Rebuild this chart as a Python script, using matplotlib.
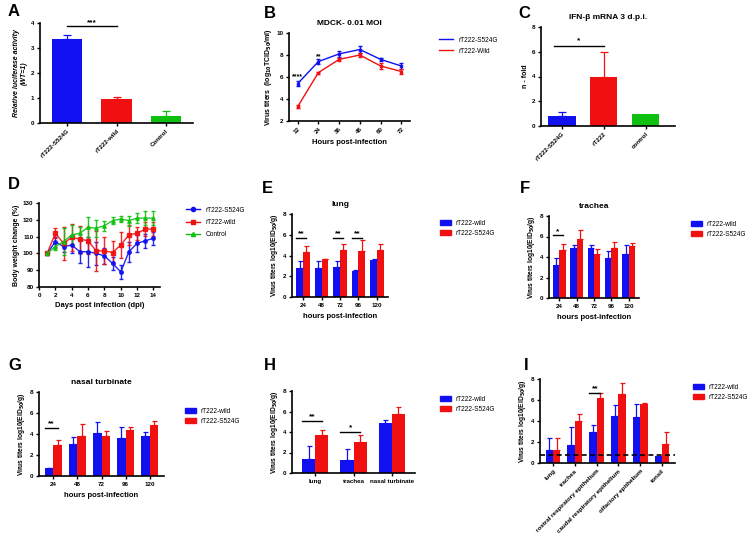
import numpy as np
import matplotlib
matplotlib.use('Agg')
import matplotlib.pyplot as plt
from matplotlib.patches import Patch

BLUE = '#1010f0'
RED = '#f01010'
GREEN = '#10c010'

# A: luciferase
a_labels = ['rT222-S524G', 'rT222-wild', 'Control']
a_vals = [3.35, 0.97, 0.3]
a_err = [0.18, 0.08, 0.2]

# B: MDCK growth curve
b_hours = [12, 24, 36, 48, 60, 72]
b_s524g = [5.4, 7.4, 8.1, 8.5, 7.6, 7.0]
b_s524g_err = [0.2, 0.2, 0.25, 0.3, 0.15, 0.3]
b_wild = [3.3, 6.4, 7.6, 8.0, 7.0, 6.5]
b_wild_err = [0.15, 0.1, 0.15, 0.2, 0.25, 0.2]

# C: IFN-beta
c_labels = ['rT222-S524G', 'rT222', 'control']
c_vals = [0.8, 4.0, 1.0]
c_err = [0.3, 2.0, 0.0]

# D: body weight
d_days = list(range(1, 15))
d_s524g = [100, 107, 104, 105, 101, 101, 100, 98.5, 94, 89, 101, 106, 107.5, 109]
d_s524g_err = [1, 3, 3, 5, 7, 9, 7, 5, 4, 4, 6, 5, 4, 4]
d_wild = [100, 112, 106, 109.5, 108.5, 107.5, 101.5, 101.5, 100.5, 105, 111, 112, 114.5, 114.5]
d_wild_err = [1, 3, 10, 8, 8, 8, 12, 8, 7, 8, 6, 4, 4, 4]
d_ctrl = [100, 104, 107, 111, 112, 115.5, 115, 116.5, 119.5, 120.5, 119.5, 121, 121, 121]
d_ctrl_err = [1, 2, 8, 6, 4, 6, 5, 3, 2, 2, 3, 3, 4, 4]

hours = ['24', '48', '72', '96', '120']

# E: lung
e_wild = [2.8, 2.8, 2.9, 2.5, 3.55]
e_wild_err = [0.7, 0.7, 0.6, 0.1, 0.15]
e_mut = [4.35, 3.7, 4.5, 4.45, 4.5]
e_mut_err = [0.6, 0.0, 0.6, 1.0, 0.6]

# F: trachea
f_wild = [3.2, 4.9, 4.9, 3.9, 4.25]
f_wild_err = [0.7, 0.3, 0.3, 0.7, 0.9]
f_mut = [4.7, 5.75, 4.25, 4.9, 5.05]
f_mut_err = [0.55, 0.9, 0.5, 0.6, 0.35]

# G: nasal turbinate
g_wild = [0.75, 3.05, 4.1, 3.65, 3.85]
g_wild_err = [0.0, 0.65, 1.05, 1.0, 0.35]
g_mut = [2.95, 3.85, 3.85, 4.4, 4.9]
g_mut_err = [0.5, 1.15, 0.4, 0.25, 0.3]

# H: tissues
h_labels = ['lung', 'trachea', 'nasal turbinate']
h_wild = [1.4, 1.3, 4.85]
h_wild_err = [1.2, 1.0, 0.3]
h_mut = [3.75, 3.05, 5.75]
h_mut_err = [0.45, 0.65, 0.7]

# I: tissues
i_labels = ['lung', 'trachea', 'rostral respiratory epithelium',
            'caudal respiratory epithelium', 'olfactory epithelium', 'tonsil']
i_wild = [1.25, 1.7, 2.95, 4.5, 4.35, 0.7]
i_wild_err = [1.1, 1.75, 0.7, 1.0, 1.25, 0.0]
i_mut = [1.25, 4.0, 6.2, 6.6, 5.6, 1.85]
i_mut_err = [1.1, 0.65, 0.45, 1.0, 0.15, 1.1]

plt.rcParams['font.family'] = 'Liberation Sans'
plt.rcParams['font.weight'] = 'bold'
plt.rcParams['axes.labelweight'] = 'bold'
plt.rcParams['axes.titleweight'] = 'bold'
plt.rcParams['axes.linewidth'] = 1.2

fig = plt.figure(figsize=(7.5, 5.37), dpi=100)

LEG_FONT = {'size': 4.7, 'weight': 'normal'}


def axes_px(x0, y0, x1, y1):
    return fig.add_axes([x0 / 750, 1 - y1 / 537, (x1 - x0) / 750, (y1 - y0) / 537])


def style(ax):
    ax.spines['top'].set_visible(False)
    ax.spines['right'].set_visible(False)
    ax.tick_params(labelsize=4.5, width=1.0, length=2.5, pad=1.5)


def letter(x, y, s):
    fig.text(x / 750, 1 - y / 537, s, fontsize=12, fontweight='bold', va='center', ha='left')


def sig(ax, x0, x1, y, stars, dy=0.25):
    ax.plot([x0, x1], [y, y], color='black', lw=1.0)
    ax.text((x0 + x1) / 2, y + dy, stars, ha='center', va='center', fontsize=6)


def grouped(ax, labels, wild, wild_err, mut, mut_err, w=0.36):
    x = np.arange(len(labels))
    ax.bar(x - w / 2, wild, w, color=BLUE, yerr=[np.zeros(len(wild)), wild_err],
           error_kw=dict(ecolor=BLUE, elinewidth=0.9, capsize=1.8, capthick=0.9))
    ax.bar(x + w / 2, mut, w, color=RED, yerr=[np.zeros(len(mut)), mut_err],
           error_kw=dict(ecolor=RED, elinewidth=0.9, capsize=1.8, capthick=0.9))
    ax.set_xticks(x)
    ax.set_xticklabels(labels)
    ax.set_xlim(-0.6, len(labels) - 0.4)
    ax.set_ylim(0, 8)
    ax.set_yticks([0, 2, 4, 6, 8])
    ax.tick_params(axis='x', length=0)
    style(ax)
    return x, w


def bar_legend(ax, x, y):
    handles = [Patch(color=BLUE, label='rT222-wild'), Patch(color=RED, label='rT222-S524G')]
    ax.legend(handles=handles, loc='upper left', bbox_to_anchor=(x / 750, 1 - y / 537),
              bbox_transform=fig.transFigure, frameon=False, prop=LEG_FONT,
              handlelength=1.8, handleheight=0.9, handletextpad=0.6,
              labelspacing=0.5, borderaxespad=0)


titer_label = 'Virus titers log10(EID$_{50}$/g)'

# ---- A
ax = axes_px(40, 23, 193, 123)
xa = np.arange(3)
ax.bar(xa, a_vals, 0.62, color=[BLUE, RED, GREEN])
for xi, v, e, c in zip(xa, a_vals, a_err, [BLUE, RED, GREEN]):
    ax.errorbar(xi, v, yerr=[[0], [e]], color=c, lw=0.9, capsize=3, capthick=0.9)
ax.set_xticks(xa)
ax.set_xticklabels(a_labels, rotation=45, ha='right', rotation_mode='anchor')
ax.set_xlim(-0.55, 2.55)
ax.set_ylim(0, 4)
ax.set_yticks([0, 1, 2, 3, 4])
ax.set_ylabel('Relative luciferase activity\n(WT=1)', fontsize=5, style='italic', labelpad=2)
style(ax)
sig(ax, 0, 1, 3.9, '***', dy=0.12)
letter(8, 12, 'A')

# ---- B
ax = axes_px(289, 33, 410, 121)
ax.errorbar(b_hours, b_s524g, yerr=b_s524g_err, color=BLUE, lw=1.0, capsize=1.5,
            marker='s', ms=2)
ax.errorbar(b_hours, b_wild, yerr=b_wild_err, color=RED, lw=1.0, capsize=1.5,
            marker='s', ms=2)
ax.plot([], [], color=BLUE, lw=1.0, label='rT222-S524G')
ax.plot([], [], color=RED, lw=1.0, label='rT222-Wild')
ax.set_xticks(b_hours)
ax.set_xticklabels([str(h) for h in b_hours], rotation=45, ha='right', rotation_mode='anchor')
ax.set_xlim(7, 77)
ax.set_ylim(2, 10)
ax.set_yticks([2, 4, 6, 8, 10])
ax.set_xlabel('Hours post-infection', fontsize=5.5, labelpad=3)
ax.set_ylabel('Virus titers  (log$_{10}$TCID$_{50}$/ml)', fontsize=5, labelpad=2)
ax.set_title('MDCK- 0.01 MOI', fontsize=6, pad=6)
ax.text(12, 5.9, '****', ha='center', fontsize=5)
ax.text(24, 7.75, '**', ha='center', fontsize=5)
style(ax)
ax.legend(loc='upper left', bbox_to_anchor=(436 / 750, 1 - 34 / 537),
          bbox_transform=fig.transFigure, frameon=False, prop=LEG_FONT,
          handlelength=2.2, labelspacing=0.6, borderaxespad=0)
letter(264, 14, 'B')

# ---- C
ax = axes_px(541, 27, 675, 126)
xc = np.arange(3)
ax.bar(xc, c_vals, 0.65, color=[BLUE, RED, GREEN])
for xi, v, e, c in zip(xc, c_vals, c_err, [BLUE, RED, GREEN]):
    if e > 0:
        ax.errorbar(xi, v, yerr=[[0], [e]], color=c, lw=0.9, capsize=3, capthick=0.9)
ax.set_xticks(xc)
ax.set_xticklabels(c_labels, rotation=45, ha='right', rotation_mode='anchor')
ax.set_xlim(-0.5, 2.7)
ax.set_ylim(0, 8)
ax.set_yticks([0, 2, 4, 6, 8])
ax.set_ylabel('n - fold', fontsize=5, labelpad=2)
ax.set_title('IFN-β mRNA 3 d.p.i.', fontsize=6, pad=6)
style(ax)
sig(ax, -0.2, 1.0, 6.5, '*', dy=0.4)
letter(518, 14, 'C')

# ---- D
ax = axes_px(39, 203, 160, 287)
for ys, es, c, m, lab in [(d_s524g, d_s524g_err, BLUE, 'o', 'rT222-S524G'),
                          (d_wild, d_wild_err, RED, 's', 'rT222-wild'),
                          (d_ctrl, d_ctrl_err, GREEN, '^', 'Control')]:
    ax.errorbar(d_days, ys, yerr=es, color=c, lw=1.0, capsize=1.5,
                marker=m, ms=2.5, alpha=0.9)
    ax.plot([], [], color=c, lw=1.0, marker=m, ms=3, label=lab)
ax.set_xlim(0, 14.8)
ax.set_xticks(range(0, 15, 2))
ax.set_ylim(80, 130)
ax.set_yticks(range(80, 131, 10))
ax.set_xlabel('Days post infection (dpi)', fontsize=5.5, labelpad=3)
ax.set_ylabel('Body weight change (%)', fontsize=5, labelpad=2)
style(ax)
ax.legend(loc='upper left', bbox_to_anchor=(183 / 750, 1 - 204 / 537),
          bbox_transform=fig.transFigure, frameon=False, prop=LEG_FONT,
          handlelength=2.2, labelspacing=0.8, borderaxespad=0)
letter(8, 184, 'D')

# ---- E
ax = axes_px(292, 214, 388, 297)
x, w = grouped(ax, hours, e_wild, e_wild_err, e_mut, e_mut_err)
for i in [0, 2, 3]:
    sig(ax, x[i] - w, x[i] + w / 2, 5.7, '**', dy=0.35)
ax.set_title('lung', fontsize=6, pad=6)
ax.set_xlabel('hours post-infection', fontsize=5.5, labelpad=4)
ax.set_ylabel(titer_label, fontsize=4.8, labelpad=2)
bar_legend(ax, 437, 217)
letter(262, 188, 'E')

# ---- F
ax = axes_px(549, 216, 639, 298)
x, w = grouped(ax, hours, f_wild, f_wild_err, f_mut, f_mut_err)
sig(ax, x[0] - w, x[0] + w / 2, 6.1, '*', dy=0.35)
ax.set_title('trachea', fontsize=6, pad=6)
ax.set_xlabel('hours post-infection', fontsize=5.5, labelpad=4)
ax.set_ylabel(titer_label, fontsize=4.8, labelpad=2)
bar_legend(ax, 688, 218)
letter(520, 188, 'F')

# ---- G
ax = axes_px(39, 392, 164, 476)
x, w = grouped(ax, hours, g_wild, g_wild_err, g_mut, g_mut_err)
sig(ax, x[0] - w, x[0] + w / 2, 4.6, '**', dy=0.4)
ax.set_title('nasal turbinate', fontsize=6, pad=6)
ax.set_xlabel('hours post-infection', fontsize=5.5, labelpad=4)
ax.set_ylabel(titer_label, fontsize=4.8, labelpad=2)
bar_legend(ax, 182, 405)
letter(8, 366, 'G')

# ---- H
ax = axes_px(292, 391, 415, 473)
x, w = grouped(ax, h_labels, h_wild, h_wild_err, h_mut, h_mut_err, w=0.34)
sig(ax, x[0] - w, x[0] + w / 2, 5.1, '**', dy=0.4)
sig(ax, x[1] - w, x[1] + w / 2, 4.0, '*', dy=0.4)
ax.set_ylabel(titer_label, fontsize=4.8, labelpad=2)
bar_legend(ax, 437, 393)
letter(264, 366, 'H')

# ---- I
ax = axes_px(540, 379, 675, 463)
x, w = grouped(ax, i_labels, i_wild, i_wild_err, i_mut, i_mut_err, w=0.34)
ax.set_xticklabels(i_labels, rotation=45, ha='right', rotation_mode='anchor')
ax.axhline(0.75, color='black', lw=1.2, ls=(0, (3, 2)))
sig(ax, x[2] - w, x[2] + w / 2, 6.7, '**', dy=0.4)
ax.set_ylabel(titer_label, fontsize=4.8, labelpad=2)
bar_legend(ax, 690, 381)
letter(524, 366, 'I')

fig.savefig('out.png', dpi=100)
